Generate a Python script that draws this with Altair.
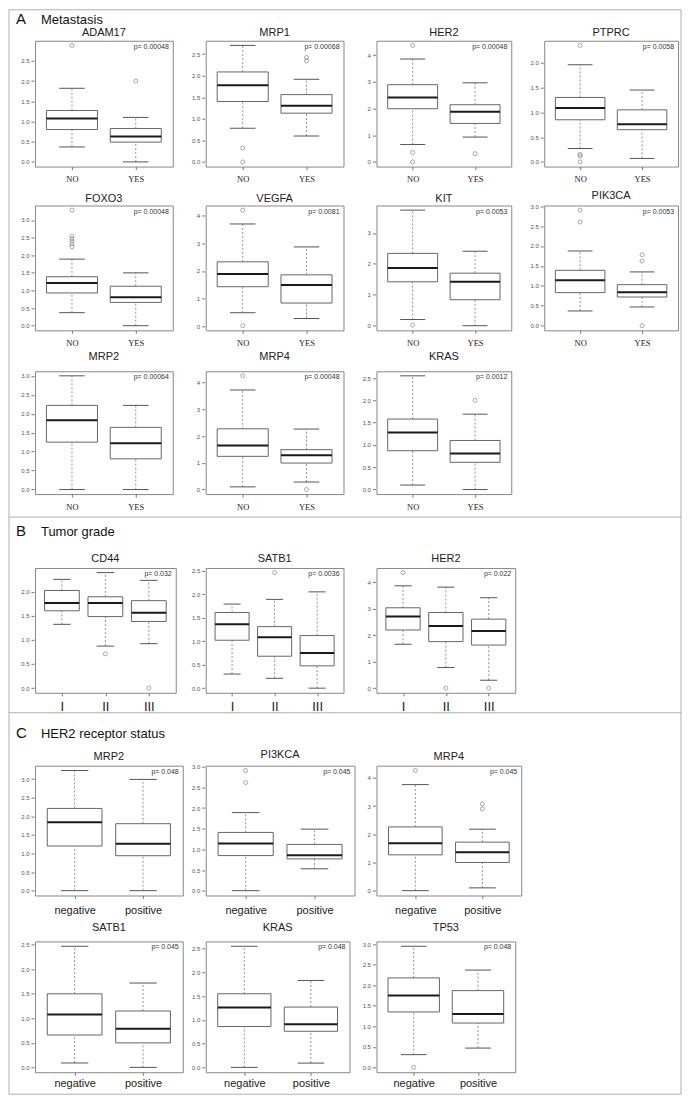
import altair as alt
import pandas as pd
import numpy as np

FONT = "Liberation Sans"
SERIF = "Liberation Serif"

# ---------------- Section A : Metastasis ----------------
A_groups = ["NO", "YES"]
A_genes = ["ADAM17", "MRP1", "HER2", "PTPRC",
           "FOXO3", "VEGFA", "KIT", "PIK3CA",
           "MRP2", "MRP4", "KRAS"]
A_pvals = ["0.00048", "0.00068", "0.00048", "0.0058",
           "0.00048", "0.0081", "0.0053", "0.0053",
           "0.00064", "0.00048", "0.0012"]
# (lower whisker, Q1, median, Q3, upper whisker) for each group
A_stats = [
    [(0.37, 0.80, 1.075, 1.27, 1.82), (0.00, 0.49, 0.63, 0.825, 1.10)],
    [(0.78, 1.40, 1.775, 2.085, 2.70), (0.60, 1.13, 1.30, 1.56, 1.915)],
    [(0.65, 1.99, 2.41, 2.89, 3.85), (0.93, 1.44, 1.875, 2.14, 2.96)],
    [(0.27, 0.85, 1.09, 1.30, 1.96), (0.07, 0.65, 0.76, 1.05, 1.45)],
    [(0.37, 0.93, 1.21, 1.39, 1.89), (0.00, 0.66, 0.81, 1.12, 1.50)],
    [(0.49, 1.43, 1.89, 2.33, 3.70), (0.28, 0.84, 1.49, 1.86, 2.87)],
    [(0.20, 1.42, 1.87, 2.34, 3.74), (0.00, 0.84, 1.42, 1.70, 2.41)],
    [(0.37, 0.83, 1.14, 1.39, 1.875), (0.47, 0.72, 0.84, 1.03, 1.35)],
    [(0.00, 1.25, 1.83, 2.22, 3.00), (0.00, 0.81, 1.22, 1.64, 2.22)],
    [(0.10, 1.24, 1.65, 2.27, 3.72), (0.28, 0.99, 1.28, 1.49, 2.26)],
    [(0.10, 0.87, 1.28, 1.58, 2.55), (0.00, 0.61, 0.81, 1.10, 1.69)],
]
A_outliers = [
    [[2.88], [2.0]],
    [[0.32, 0.0], [2.42, 2.34]],
    [[4.36, 0.35, 0.0], [0.31]],
    [[2.35, 0.15, 0.12, 0.0], []],
    [[3.28, 2.55, 2.47, 2.40, 2.32, 2.24], []],
    [[4.2, 0.02], []],
    [[0.02], []],
    [[2.9, 2.6], [1.78, 1.62, 0.0]],
    [[], []],
    [[4.25], [0.0]],
    [[], [2.0]],
]

# ---------------- Section B : Tumor grade ----------------
B_groups = ["I", "II", "III"]
B_genes = ["CD44", "SATB1", "HER2"]
B_pvals = ["0.032", "0.0036", "0.022"]
B_stats = [
    [(1.32, 1.60, 1.76, 2.02, 2.25), (0.87, 1.48, 1.76, 1.89, 2.39), (0.92, 1.38, 1.56, 1.81, 2.23)],
    [(0.30, 1.02, 1.36, 1.61, 1.79), (0.21, 0.68, 1.085, 1.31, 1.89), (0.00, 0.475, 0.75, 1.12, 2.05)],
    [(1.66, 2.20, 2.71, 3.04, 3.87), (0.78, 1.76, 2.35, 2.86, 3.82), (0.30, 1.63, 2.16, 2.61, 3.42)],
]
B_outliers = [
    [[], [0.71], [0.0]],
    [[], [2.46], []],
    [[4.37], [0.0], [0.0]],
]

# ---------------- Section C : HER2 receptor status ----------------
C_groups = ["negative", "positive"]
C_genes = ["MRP2", "PI3KCA", "MRP4", "SATB1", "KRAS", "TP53"]
C_pvals = ["0.048", "0.045", "0.045", "0.045", "0.048", "0.048"]
C_stats = [
    [(0.00, 1.20, 1.84, 2.21, 3.23), (0.00, 0.94, 1.26, 1.80, 2.99)],
    [(0.00, 0.85, 1.14, 1.41, 1.89), (0.53, 0.77, 0.86, 1.12, 1.49)],
    [(0.00, 1.27, 1.68, 2.26, 3.76), (0.10, 1.00, 1.36, 1.72, 2.18)],
    [(0.09, 0.66, 1.08, 1.50, 2.47), (0.00, 0.50, 0.79, 1.15, 1.72)],
    [(0.00, 0.86, 1.26, 1.55, 2.55), (0.09, 0.76, 0.91, 1.27, 1.83)],
    [(0.31, 1.35, 1.75, 2.18, 2.95), (0.47, 1.08, 1.30, 1.87, 2.37)],
]
C_outliers = [
    [[], []],
    [[2.91, 2.62], []],
    [[4.26], [3.08, 2.90]],
    [[], []],
    [[], []],
    [[0.0], []],
]

NCOL = 8
LEAD = 26
GAPS = [23, 22, 23]


def panel(gene, groups, stats, outs, pval, w, h, toff, xfont, xsize, xpad):
    n = len(groups)
    box = pd.DataFrame([dict(pos=i + 1, lo=s[0], q1=s[1], med=s[2], q3=s[3], hi=s[4])
                        for i, s in enumerate(stats)])
    vals = [s[0] for s in stats] + [s[4] for s in stats] + [v for o in outs for v in o]
    lo, hi = min(vals), max(vals)
    r = hi - lo
    ydom = [lo - 0.04 * r, hi + 0.04 * r]
    step = 1.0 if hi > 3.5 else 0.5
    nt = int(np.floor(ydom[1] / step + 1e-9))
    yt = [round(k * step, 1) for k in range(nt + 1)]
    fmt = "d" if step == 1.0 else ".1f"
    xdom = [0.5 - 0.04 * n, n + 0.5 + 0.04 * n]
    xlab = "[" + ",".join("'%s'" % g for g in groups) + "][datum.value - 1]"
    xax = alt.Axis(values=list(range(1, n + 1)), labelExpr=xlab, title=None, grid=False,
                   domain=False, ticks=True, tickSize=3, tickColor="#777",
                   labelFont=xfont, labelFontSize=xsize, labelColor="#222",
                   labelPadding=xpad, labelAngle=0, labelFlush=False, labelOverlap=False)
    yax = alt.Axis(values=yt, format=fmt, title=None, grid=False, domain=False,
                   tickSize=3, tickColor="#777", labelFont=FONT, labelFontSize=6,
                   labelColor="#555", labelPadding=2, offset=1, labelOverlap=False)
    xs = alt.Scale(domain=xdom, nice=False, zero=False)
    ys = alt.Scale(domain=ydom, nice=False, zero=False)

    def X(f):
        return alt.X(f, type="quantitative", scale=xs, axis=xax)

    def Y(f):
        return alt.Y(f, type="quantitative", scale=ys, axis=yax)

    base = alt.Chart(box).transform_calculate(
        x1="datum.pos - 0.4", x2="datum.pos + 0.4",
        c1="datum.pos - 0.2", c2="datum.pos + 0.2")
    wu = base.mark_rule(color="#777", strokeDash=[2, 2], strokeWidth=0.8).encode(
        x=X("pos"), y=Y("q3"), y2="hi")
    wl = base.mark_rule(color="#777", strokeDash=[2, 2], strokeWidth=0.8).encode(
        x=X("pos"), y=Y("lo"), y2="q1")
    cu = base.mark_rule(color="#555", strokeWidth=1).encode(x=X("c1"), x2="c2", y=Y("hi"))
    cl = base.mark_rule(color="#555", strokeWidth=1).encode(x=X("c1"), x2="c2", y=Y("lo"))
    bx = base.mark_rect(fill="white", stroke="#666", strokeWidth=1).encode(
        x=X("x1"), x2="x2", y=Y("q1"), y2="q3")
    md = base.mark_rule(color="#1a1a1a", strokeWidth=2).encode(x=X("x1"), x2="x2", y=Y("med"))
    layers = [wu, wl, cu, cl, bx, md]
    pts = [dict(pos=i + 1, v=v) for i, o in enumerate(outs) for v in o]
    if pts:
        layers.append(alt.Chart(pd.DataFrame(pts)).mark_point(
            shape="circle", filled=False, size=16, color="#666", strokeWidth=0.8).encode(
            x=X("pos"), y=Y("v")))
    layers.append(alt.Chart(pd.DataFrame({"t": ["p= " + pval]})).mark_text(
        align="right", baseline="middle", font=FONT, fontSize=7, color="#333").encode(
        x=alt.value(w - 4), y=alt.value(6), text="t:N"))
    return alt.layer(*layers).properties(
        width=w, height=h,
        title=alt.TitleParams(text=gene, font=FONT, fontSize=11, fontWeight="normal",
                              color="#222", anchor="middle", baseline="middle", offset=toff),
        view=alt.ViewBackground(stroke="#888", strokeWidth=1))


def spacer(w, h):
    return alt.Chart(pd.DataFrame({"s": [0]})).mark_point(opacity=0, size=1).encode(
        x=alt.value(w / 2), y=alt.value(h / 2)).properties(width=w, height=h)


def row(panels, h):
    items = [spacer(LEAD, h)]
    for i, p in enumerate(panels):
        if i > 0:
            items.append(spacer(GAPS[i - 1], h))
        items.append(p)
    while len(items) < NCOL:
        items.append(spacer(1, h))
    return items


def blank_row(h):
    return [spacer(1, h) for _ in range(NCOL)]


def header(letter, name, h, yl, yn, rules=None):
    layers = [
        alt.Chart(pd.DataFrame({"t": [letter]})).mark_text(
            align="left", baseline="middle", font=FONT, fontSize=15, color="#111").encode(
            x=alt.value(7), y=alt.value(yl), text="t:N"),
        alt.Chart(pd.DataFrame({"t": [name]})).mark_text(
            align="left", baseline="middle", font=FONT, fontSize=13, color="#111").encode(
            x=alt.value(32), y=alt.value(yn), text="t:N"),
    ]
    for rl in (rules or []):
        layers.append(alt.Chart(pd.DataFrame({"k": [0]})).mark_rule(
            color="#b0b0b0", strokeWidth=1).encode(**rl))
    cell = alt.layer(*layers).properties(width=LEAD, height=h)
    return [cell] + [spacer(1, h) for _ in range(NCOL - 1)]


FW, FH = 673, 1086
frame = [
    dict(x=alt.value(0), x2=alt.value(FW), y=alt.value(0)),
    dict(x=alt.value(0), x2=alt.value(FW), y=alt.value(508)),
    dict(x=alt.value(0), x2=alt.value(FW), y=alt.value(704)),
    dict(x=alt.value(0), x2=alt.value(FW), y=alt.value(FH)),
    dict(x=alt.value(0), y=alt.value(0), y2=alt.value(FH)),
    dict(x=alt.value(FW), y=alt.value(0), y2=alt.value(FH)),
]

A_w = [138, 138, 135, 134]
A_h = [126, 125, 123]
A_to = [-3, -4, 3]
A_panels = [panel(A_genes[k], A_groups, A_stats[k], A_outliers[k], A_pvals[k],
                  A_w[k % 4], A_h[k // 4], A_to[k // 4], SERIF, 8.5, 5)
            for k in range(len(A_genes))]

B_w = [141, 138, 139]
B_panels = [panel(B_genes[k], B_groups, B_stats[k], B_outliers[k], B_pvals[k],
                  B_w[k], 125, -2, FONT, 13, 5) for k in range(3)]

C_w = [148, 149, 145, 148, 144, 139]
C_h = [130, 131]
C_to = [-2.5, 2.5]
C_xp = [6, 2]
C_panels = [panel(C_genes[k], C_groups, C_stats[k], C_outliers[k], C_pvals[k],
                  C_w[k], C_h[k // 3], C_to[k // 3], FONT, 11, C_xp[k // 3]) for k in range(6)]

cells = []
cells += header("A", "Metastasis", 31, 9, 10, frame)
cells += row(A_panels[0:4], A_h[0])
cells += blank_row(39)
cells += row(A_panels[4:8], A_h[1])
cells += blank_row(41)
cells += row(A_panels[8:11], A_h[2])
cells += header("B", "Tumor grade", 74, 37, 38)
cells += row(B_panels, 125)
cells += header("C", "HER2 receptor status", 73, 40, 41)
cells += row(C_panels[0:3], C_h[0])
cells += blank_row(46)
cells += row(C_panels[3:6], C_h[1])
cells += blank_row(22)

chart = alt.concat(
    *cells, columns=NCOL, spacing=0, bounds="flush", align="none"
).properties(padding=0, background="white").configure_view(strokeWidth=0)

chart.save("out.html", embed_options={"renderer": "svg", "actions": False})
